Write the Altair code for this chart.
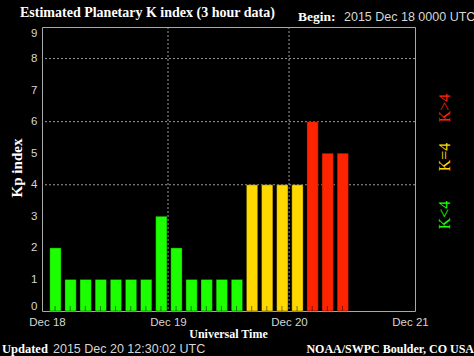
import json
import altair as alt
import pandas as pd

# ---- data ----
kp_values = [2, 1, 1, 1, 1, 1, 1, 3, 2, 1, 1, 1, 1, 4, 4, 4, 4, 6, 5, 5]
bin_hours = 3
day_ticks = [0, 24, 48, 72]
day_labels = ["Dec 18", "Dec 19", "Dec 20", "Dec 21"]
y_ticks = [0, 1, 2, 3, 4, 5, 6, 7, 8, 9]
h_grid = [4, 6, 8]
v_grid = [24, 48]
class_names = ["K<4", "K=4", "K>4"]
class_colors = ["#1cff00", "#ffd800", "#ff2400"]

title_text = "Estimated Planetary K index (3 hour data)"
begin_label = "Begin:"
begin_value = "2015 Dec 18 0000 UTC"
updated_label = "Updated"
updated_value = "2015 Dec 20 12:30:02 UTC"
credit_text = "NOAA/SWPC Boulder, CO USA"
y_title = "Kp index"
x_title = "Universal Time"
legend_order = ["K>4", "K=4", "K<4"]

# ---- layout ----
W, H = 373, 284
SERIF = "Liberation Serif"
SANS = "Liberation Sans"

def kclass(v):
    if v < 4:
        return "K<4"
    if v == 4:
        return "K=4"
    return "K>4"

starts = [i * bin_hours for i in range(len(kp_values))]
bars = pd.DataFrame({
    "start": starts,
    "x1": [s + 0.55 for s in starts],
    "x2": [s + 2.8 for s in starts],
    "mid": [s + 1.6 for s in starts],
    "kp": kp_values,
    "base": [0] * len(kp_values),
    "cls": [kclass(v) for v in kp_values],
})

xscale = alt.Scale(domain=[0, 72], nice=False, zero=False)
yscale = alt.Scale(domain=[0, 9], nice=False)

label_map = json.dumps({str(t): l for t, l in zip(day_ticks, day_labels)})

bar_layer = alt.Chart(bars).mark_bar(
    orient="vertical", stroke="black", strokeOpacity=0.35, strokeWidth=1
).encode(
    x=alt.X("x1:Q", scale=xscale, title=None,
            axis=alt.Axis(values=day_ticks, labelExpr=f"{label_map}[datum.value]")),
    x2="x2:Q",
    y=alt.Y("kp:Q", scale=yscale, title=None, axis=alt.Axis(values=y_ticks)),
    y2="base:Q",
    color=alt.Color("cls:N", scale=alt.Scale(domain=class_names, range=class_colors), legend=None),
)

hgrid_layer = alt.Chart(pd.DataFrame({"level": h_grid})).mark_rule(
    color="#9a9a9a", strokeDash=[2, 2], strokeWidth=1
).encode(y=alt.Y("level:Q", scale=yscale, title=None, axis=alt.Axis(values=y_ticks)))

vgrid_layer = alt.Chart(pd.DataFrame({"hour": v_grid})).mark_rule(
    color="#9a9a9a", strokeDash=[2, 2], strokeWidth=1
).encode(x=alt.X("hour:Q", scale=xscale, title=None,
                 axis=alt.Axis(values=day_ticks, labelExpr=f"{label_map}[datum.value]")))

tick_layer = alt.Chart(bars).mark_rule(color="black", opacity=0.5, strokeWidth=1).encode(
    x=alt.X("mid:Q", scale=xscale, title=None,
            axis=alt.Axis(values=day_ticks, labelExpr=f"{label_map}[datum.value]")),
    y=alt.value(H),
    y2=alt.value(H - 5),
)


def label(text, x, y, font, size, color="#e8e8e8", bold=False, align="left",
          baseline="alphabetic", angle=0):
    kw = dict(font=font, fontSize=size, color=color, align=align, baseline=baseline)
    if bold:
        kw["fontWeight"] = "bold"
    if angle:
        kw["angle"] = angle
    return alt.Chart(pd.DataFrame({"t": [text]})).mark_text(**kw).encode(
        text="t:N", x=alt.value(x), y=alt.value(y)
    )


texts = [
    label(title_text, -22, -10, SERIF, 14, color="#ffffff", bold=True),
    label(begin_label, 256, -6, SERIF, 13.5, color="#ffffff", bold=True),
    label(begin_value, 302, -6, SANS, 12.5, color="#d6d6d6"),
    label(y_title, -25, 141, SERIF, 15, color="#ffffff", bold=True, align="center",
          baseline="middle", angle=270),
    label(x_title, 186.5, 307, SERIF, 12, color="#ffffff", bold=True, align="center",
          baseline="middle"),
    label(updated_label, -40, 326, SERIF, 12.5, color="#ffffff", bold=True),
    label(updated_value, 11, 326, SANS, 12.5, color="#d6d6d6"),
    label(credit_text, 432, 326, SERIF, 12, color="#ffffff", bold=True, align="right"),
]

legend_y = [81, 130, 188]
color_of = dict(zip(class_names, class_colors))
for name, yy in zip(legend_order, legend_y):
    texts.append(label(name, 403, yy, SERIF, 16, color=color_of[name], align="center",
                       baseline="middle", angle=270))

chart = alt.layer(vgrid_layer, hgrid_layer, bar_layer, tick_layer, *texts).properties(
    width=W, height=H,
    background="black",
    autosize=alt.AutoSizeParams(type="none"),
    padding={"left": 42, "top": 27, "right": 59, "bottom": 45},
).configure_view(stroke="#a8a8a8", strokeWidth=1).configure_axis(
    grid=False, ticks=False, domain=False, labelFont=SANS, labelFontSize=11.5,
    labelColor="#d6d6d6", labelOverlap=False,
).configure_axisX(labelPadding=5, labelFlush=False).configure_axisY(
    labelPadding=5, labelFlush=True
)

chart.save("out.html", embed_options={"renderer": "svg", "actions": False})
